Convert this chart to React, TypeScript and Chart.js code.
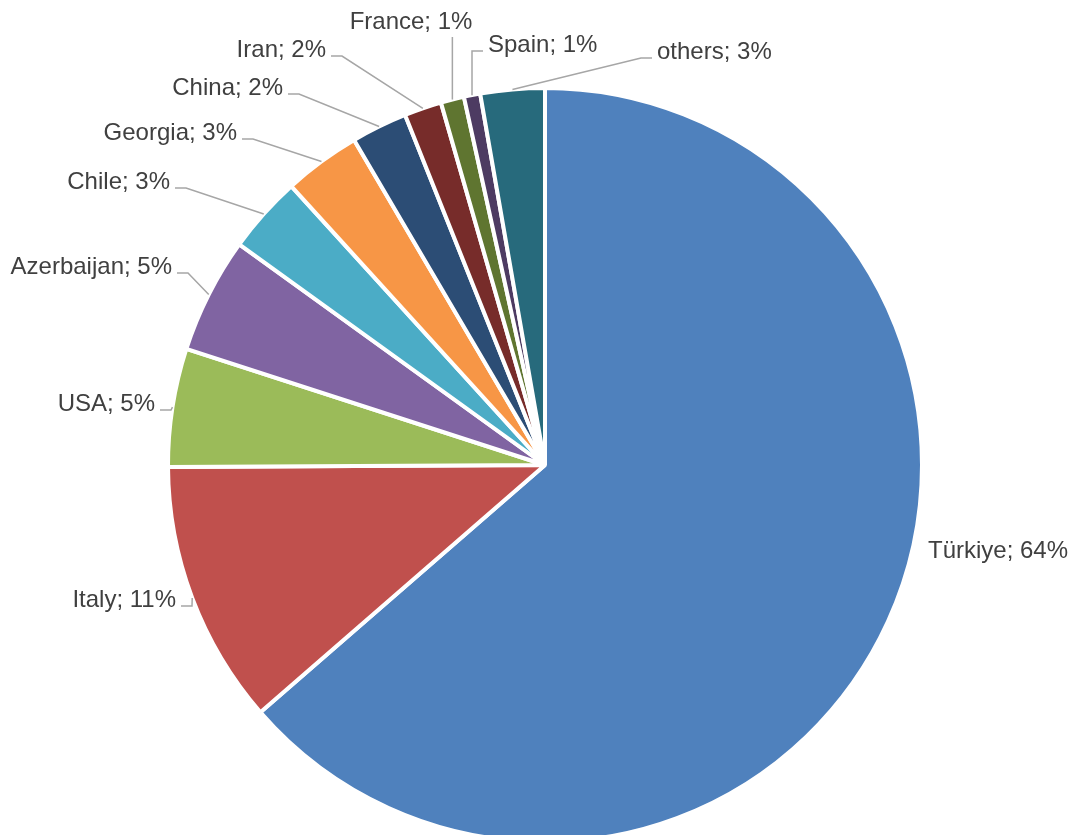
import React, { useEffect, useRef } from "react";
import { Chart, registerables } from "chart.js";

Chart.register(...registerables);

const categories = [
  "Türkiye",
  "Italy",
  "USA",
  "Azerbaijan",
  "Chile",
  "Georgia",
  "China",
  "Iran",
  "France",
  "Spain",
  "others",
];

const shares = [63.6, 11.3, 5.07, 4.96, 3.3, 3.3, 2.4, 1.6, 1.0, 0.7, 2.75];

const colors = [
  "#4F81BD",
  "#C0504D",
  "#9BBB59",
  "#8064A2",
  "#4BACC6",
  "#F79646",
  "#2C4D75",
  "#772C2A",
  "#5F7530",
  "#4D3B62",
  "#276A7C",
];

// label layout: offset of text anchor from pie centre, alignment, leader style
type LabelLayout = { dx: number; dy: number; align: "left" | "right" | "center"; leader: "none" | "side" | "up" };
const labelLayout: LabelLayout[] = [
  { dx: 383, dy: 86, align: "left", leader: "none" },
  { dx: -369, dy: 135, align: "right", leader: "side" },
  { dx: -390, dy: -61, align: "right", leader: "side" },
  { dx: -373, dy: -198, align: "right", leader: "side" },
  { dx: -375, dy: -283, align: "right", leader: "side" },
  { dx: -308, dy: -332, align: "right", leader: "side" },
  { dx: -262, dy: -377, align: "right", leader: "side" },
  { dx: -219, dy: -415, align: "right", leader: "side" },
  { dx: -134, dy: -443, align: "center", leader: "up" },
  { dx: -57, dy: -420, align: "left", leader: "side" },
  { dx: 112, dy: -413, align: "left", leader: "side" },
];

const FONT = '24px "Liberation Sans", Arial, sans-serif';

const labelPlugin = {
  id: "excelLabels",
  afterDatasetsDraw(chart: any) {
    const ctx = chart.ctx as CanvasRenderingContext2D;
    const meta = chart.getDatasetMeta(0);
    const data = chart.data.datasets[0].data as number[];
    const total = data.reduce((a, b) => a + b, 0);
    ctx.save();
    ctx.font = FONT;
    ctx.textBaseline = "middle";
    meta.data.forEach((arc: any, i: number) => {
      const { x, y, startAngle, endAngle, outerRadius } = arc.getProps(
        ["x", "y", "startAngle", "endAngle", "outerRadius"],
        true
      );
      const mid = (startAngle + endAngle) / 2;
      const ex = x + Math.cos(mid) * outerRadius;
      const ey = y + Math.sin(mid) * outerRadius;
      const lay = labelLayout[i];
      const tx = x + lay.dx;
      const ty = y + lay.dy;
      const text = `${categories[i]}; ${Math.round((data[i] / total) * 100)}%`;

      ctx.strokeStyle = "#A6A6A6";
      ctx.lineWidth = 1.5;
      if (lay.leader === "side") {
        const ly = ty + 6;
        let s0: number, s1: number;
        if (lay.align === "right") {
          s0 = tx + 5;
          s1 = tx + 16;
        } else {
          s0 = tx - 5;
          s1 = tx - 16;
        }
        ctx.beginPath();
        ctx.moveTo(s0, ly);
        ctx.lineTo(s1, ly);
        ctx.lineTo(ex, ey);
        ctx.stroke();
      } else if (lay.leader === "up") {
        ctx.beginPath();
        ctx.moveTo(ex, ty + 15);
        ctx.lineTo(ex, ey);
        ctx.stroke();
      }

      ctx.fillStyle = "#404040";
      ctx.textAlign = lay.align;
      ctx.fillText(text, tx, ty);
    });
    ctx.restore();
  },
};

export default function App() {
  const canvasRef = useRef<HTMLCanvasElement | null>(null);

  useEffect(() => {
    document.body.style.margin = "0";
    const canvas = canvasRef.current;
    if (!canvas) return;
    const chart = new Chart(canvas, {
      type: "pie",
      data: {
        labels: categories,
        datasets: [
          {
            data: shares,
            backgroundColor: colors,
            borderColor: "#FFFFFF",
            borderWidth: 4,
          },
        ],
      },
      options: {
        animation: false,
        responsive: true,
        maintainAspectRatio: false,
        radius: 377,
        layout: { padding: { left: 168, right: 152, top: 88, bottom: 18 } },
        plugins: {
          legend: { display: false },
          tooltip: { enabled: false },
        },
      },
      plugins: [labelPlugin],
    });
    return () => chart.destroy();
  }, []);

  return (
    <div
      style={{
        position: "fixed",
        left: 0,
        top: 0,
        width: 1074,
        height: 835,
        overflow: "hidden",
        background: "#FFFFFF",
      }}
    >
      <div style={{ position: "relative", width: 1074, height: 860 }}>
        <canvas ref={canvasRef} />
      </div>
    </div>
  );
}
